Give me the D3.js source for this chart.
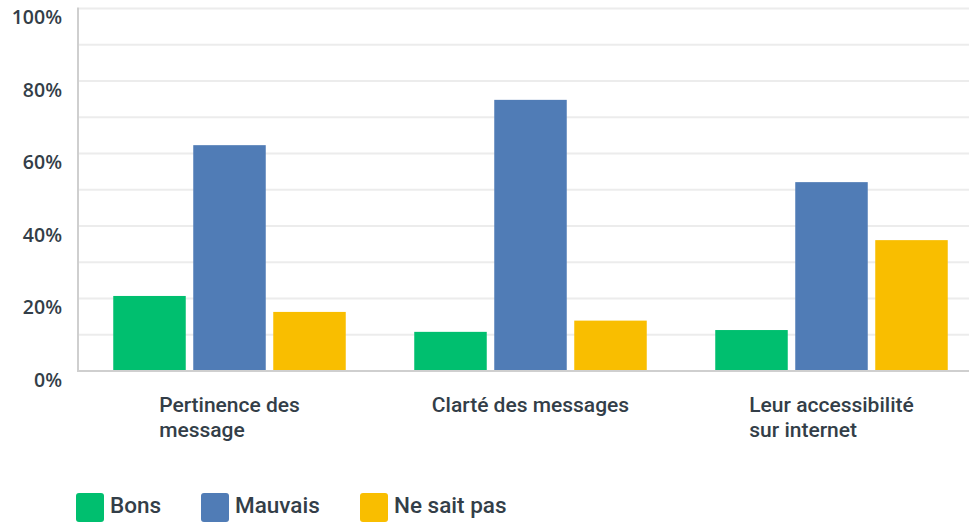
<!DOCTYPE html>
<html><head><meta charset="utf-8">
<script src="https://cdn.jsdelivr.net/npm/d3@7"></script>
<style>body{margin:0;background:#fff}svg{display:block}</style>
</head><body><svg id="c" width="969" height="523"></svg>
<script>
const categories = [["Pertinence des","message"],["Clarté des messages"],["Leur accessibilité","sur internet"]];
const seriesNames = ["Bons","Mauvais","Ne sait pas"];
const bons = [20.7, 10.8, 11.3];
const mauvais = [62.3, 74.8, 52.1];
const neSaitPas = [16.3, 13.9, 36.1];
const yTicks = [0,20,40,60,80,100];
const colors = ["#00bf6f","#507cb6","#f9be00"];
const seriesValues = [bons, mauvais, neSaitPas];
const textColor = "#333e48";

const svg = d3.select("#c");
const x0 = d3.scaleBand().domain(d3.range(categories.length)).range([79, 982]).paddingInner(0).paddingOuter(0);
const y = d3.scaleLinear().domain([0,100]).range([371, 8.5]);

// gridlines
svg.append("g").selectAll("line").data(d3.range(10,101,10)).join("line")
  .attr("x1",79).attr("x2",969).attr("y1",d=>y(d)).attr("y2",d=>y(d))
  .attr("stroke","#ececec").attr("stroke-width",2);

// bars
const barW = 72.5, gap = 7.5;
const groupW = barW*3+gap*2;
const x1 = d3.scaleBand().domain(d3.range(3)).range([0, groupW]).paddingInner(gap/(barW+gap));
categories.forEach((c,i)=>{
  const cx = x0(i)+x0.bandwidth()/2;
  const g = svg.append("g").attr("transform",`translate(${cx-groupW/2},0)`);
  g.selectAll("rect").data(seriesValues.map((s,k)=>({k,v:s[i]}))).join("rect")
    .attr("x",d=>x1(d.k)).attr("width",x1.bandwidth())
    .attr("y",d=>y(d.v)).attr("height",d=>y(0)-y(d.v))
    .attr("fill",d=>colors[d.k]);
});

// axes lines
svg.append("line").attr("x1",78).attr("x2",78).attr("y1",7.5).attr("y2",372).attr("stroke","#cfcfcf").attr("stroke-width",2);
svg.append("line").attr("x1",77).attr("x2",969).attr("y1",371).attr("y2",371).attr("stroke","#cfcfcf").attr("stroke-width",2);

// y labels
svg.append("g").selectAll("text").data(yTicks).join("text")
  .attr("x",62).attr("y",d=>y(d)+15.5).attr("text-anchor","end")
  .attr("font-family","Open Sans, sans-serif").attr("font-weight",600).attr("font-size",19.5)
  .attr("fill",textColor).text(d=>d+"%");

// category labels
categories.forEach((lines,i)=>{
  const cx = x0(i)+x0.bandwidth()/2;
  const t = svg.append("text").attr("font-family","Roboto, sans-serif").attr("font-weight",500)
    .attr("font-size",21).attr("fill",textColor);
  lines.forEach((l,j)=>t.append("tspan").attr("y",412+j*25).text(l));
  const w = d3.max(t.selectAll("tspan").nodes(), n=>n.getComputedTextLength());
  t.selectAll("tspan").attr("x",cx-w/2);
});

// legend
const legX = [76, 201, 360];
seriesNames.forEach((n,k)=>{
  svg.append("rect").attr("x",legX[k]).attr("y",493).attr("width",28).attr("height",29).attr("rx",3).attr("fill",colors[k]);
  svg.append("text").attr("x",legX[k]+34).attr("y",513).attr("font-family","Roboto, sans-serif").attr("font-weight",500)
    .attr("font-size",22.5).attr("fill",textColor).text(n);
});
</script></body></html>
